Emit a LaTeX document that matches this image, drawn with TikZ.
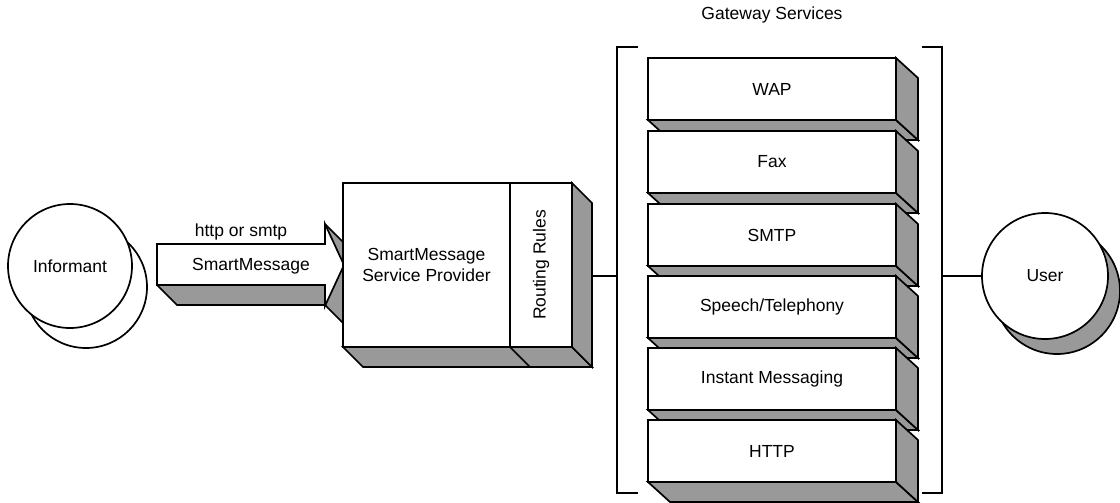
\documentclass[tikz,border=0pt]{standalone}
\usepackage{fontspec}
\setmainfont{Liberation Sans}
\definecolor{shadegray}{RGB}{153,153,153}
\begin{document}
\begin{tikzpicture}[x=1pt,y=-1pt,
  ln/.style={line width=1.7pt, line join=miter},
  frontface/.style={ln, draw=black, fill=white},
  sideface/.style={ln, draw=black, fill=shadegray},
  lbl/.style={font=\fontsize{17.5}{21}\selectfont, text=black},
  gwbox/.style={frontface, lbl, rectangle, minimum width=248pt, minimum height=62pt, inner sep=0pt, outer sep=0pt},
  person/.style={frontface, lbl, circle, inner sep=0pt, outer sep=0pt}
]
\useasboundingbox (0,0) rectangle (1120,503);

% ---------- Informant ----------
\node[ln, draw=black, fill=white, circle, minimum size=122pt, inner sep=0pt] (infshadow) at (86,287) {};
\node[person, minimum size=124pt] (inf) at (70,266) {Informant};

% ---------- Arrow (SmartMessage) ----------
\fill[shadegray] (157,285) -- (177,305) -- (325,305) -- (345,326) -- (350,326) -- (350,244) -- (345,244) -- (325,224) -- (325,285) -- cycle;
\draw[ln] (157,285) -- (177,305) -- (325,305) -- (345,325);
\draw[ln] (325,224) -- (345,244);
\draw[frontface] (157,244) -- (325,244) -- (325,224) -- (344,265) -- (325,306) -- (325,285) -- (157,285) -- cycle;
\node[lbl] (httplbl) at (241,232) {http or smtp};
\node[lbl] (smlbl) at (251,266) {SmartMessage};

% ---------- SmartMessage Service Provider ----------
\draw[sideface] (343,347) -- (363,367) -- (592,367) -- (572,347) -- cycle;
\draw[ln] (510,347) -- (530,367);
\draw[sideface] (572,183) -- (592,203) -- (592,367) -- (572,347) -- cycle;
\node[frontface, lbl, rectangle, minimum width=167pt, minimum height=164pt, inner sep=0pt, outer sep=0pt, align=center] (smsp) at (426.5,265) {SmartMessage\\Service Provider};
\node[frontface, rectangle, minimum width=62pt, minimum height=164pt, inner sep=0pt, outer sep=0pt] (routing) at (541,265) {};
\node[lbl, rotate=90] (routinglbl) at (routing.center) {Routing Rules};

% ---------- Gateway Services ----------
\node[lbl] (gwtitle) at (772,15) {Gateway Services};
\draw[ln] (638,47) -- (617,47) -- (617,493) -- (638,493);
\draw[ln] (922,47) -- (942,47) -- (942,493) -- (922,493);
\coordinate (brL) at (617,276);
\coordinate (brR) at (942,276);

\foreach \cy/\txt/\nm in {89/WAP/wap, 162/Fax/fax, 235/SMTP/smtp, 307/{Speech/Telephony}/speech, 379/Instant Messaging/im, 451/HTTP/http}{
  \node[gwbox] (\nm) at (772,\cy) {\txt};
  \draw[sideface] (\nm.south west) -- ++(22,20) -- ++(248,0) -- (\nm.south east) -- cycle;
  \draw[sideface] (\nm.north east) -- ++(22,20) -- ++(0,62) -- (\nm.south east) -- cycle;
}

% ---------- User ----------
\node[ln, draw=black, fill=shadegray, circle, minimum size=126pt, inner sep=0pt] (usershadow) at (1057,291) {};
\node[person, minimum size=126pt] (user) at (1045,276) {User};

% ---------- Connectors ----------
\coordinate (smspR) at (592,276);
\draw[ln] (smspR) -- (brL);
\draw[ln] (brR) -- (user.west);
\end{tikzpicture}
\end{document}
